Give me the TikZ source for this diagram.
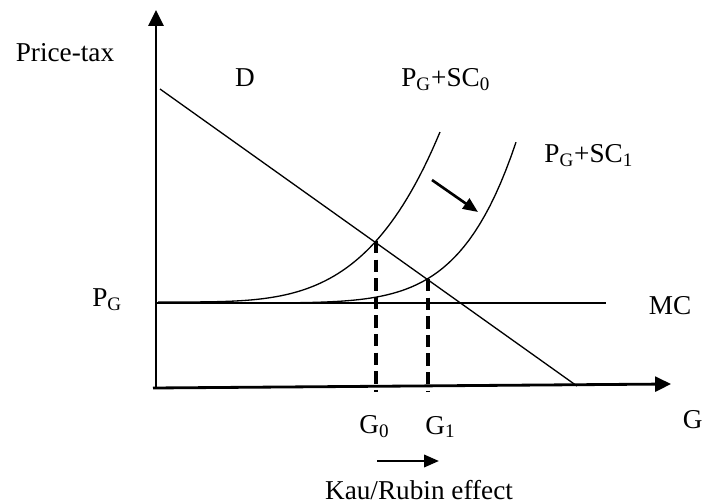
\documentclass[tikz,border=0pt]{standalone}
\usepackage{fontspec}
\setmainfont{Liberation Serif}
\usetikzlibrary{arrows.meta}

\begin{document}
\begin{tikzpicture}[x=0.02cm,y=-0.02cm,line cap=butt,every node/.style={font=\fontsize{15.5}{18}\selectfont,inner sep=0pt}]
\tikzset{ax/.style={line width=1.6pt,-{Triangle[length=9pt,width=8.5pt]}},crv/.style={line width=0.75pt},
  drop/.style={line width=1.9pt,dash pattern=on 7pt off 3.6pt},mv/.style={line width=1.5pt,-{Triangle[length=8.5pt,width=7pt]}}}
\useasboundingbox (0,0) rectangle (704,504);
\coordinate (O) at (156,388); \coordinate (ytip) at (156,10);
\coordinate (xo) at (153,388); \coordinate (xtip) at (671,384);
\coordinate (Dtop) at (160,89); \coordinate (Dbot) at (577,386);
\coordinate (MCl) at (156,303); \coordinate (MCr) at (606,303);
\coordinate (E0) at (376,241); \coordinate (B0) at (376,392);
\coordinate (E1) at (428,279); \coordinate (B1) at (428,392);
\draw[ax] (O) -- (ytip); \draw[ax] (xo) -- (xtip);
\draw[crv] (Dtop) -- (Dbot); \draw[crv] (MCl) -- (MCr);
\draw[crv] plot[domain=158:440,samples=70] (\x,{302-170*pow((\x-157)/283,4)});
\draw[crv] plot[domain=158:516,samples=70] (\x,{303-161*pow((\x-157)/359,6.7)});
\foreach \e/\b in {E0/B0,E1/B1} \draw[drop] (\e) -- (\b);
\coordinate (s0) at (432,180); \coordinate (s1) at (478,212);
\draw[mv] (s0) -- (s1);
\coordinate (k0) at (377,461); \coordinate (k1) at (439,461);
\draw[mv] (k0) -- (k1);
\node (ylab) at (65,53) {Price-tax};
\node (dlab) at (245,78) {D};
\node[anchor=west] (sc0) at (401,80) {P\textsubscript{G}+SC\textsubscript{0}};
\node[anchor=west] (sc1) at (544,156) {P\textsubscript{G}+SC\textsubscript{1}};
\node[anchor=west] (pg) at (92,300) {P\textsubscript{G}};
\node (mc) at (670,306) {MC};
\node[anchor=east] (xlab) at (703,420) {G};
\node[anchor=west] (g0) at (359,427) {G\textsubscript{0}};
\node[anchor=west] (g1) at (425,427) {G\textsubscript{1}};
\node (kr) at (419,490) {Kau/Rubin effect};
\end{tikzpicture}
\end{document}
